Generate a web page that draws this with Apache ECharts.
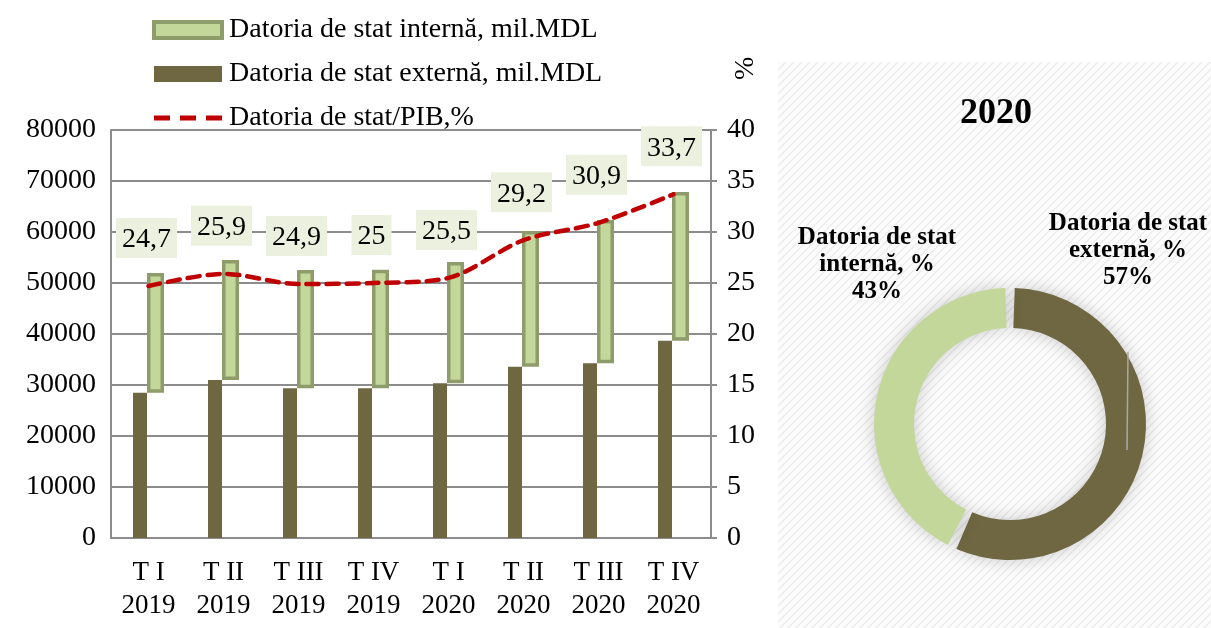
<!DOCTYPE html>
<html>
<head>
<meta charset="utf-8">
<title>Datoria de stat</title>
<script src="https://cdn.jsdelivr.net/npm/echarts@6/dist/echarts.min.js"></script>
<style>
	html, body { margin: 0; padding: 0; background: #fff; }
	#main { width: 1211px; height: 628px; }
</style>
</head>
<body>
<div id="main"></div>
<script>
var categories = ['T I\n2019', 'T II\n2019', 'T III\n2019', 'T IV\n2019', 'T I\n2020', 'T II\n2020', 'T III\n2020', 'T IV\n2020'];
// mil. MDL
var externalDebt = [28500, 31000, 29350, 29350, 30330, 33600, 34250, 38700];
var internalDebt = [23470, 23500, 23200, 23250, 23770, 26600, 28100, 29150];
// %
var debtToGdp = [24.7, 25.9, 24.9, 25, 25.5, 29.2, 30.9, 33.7];

var pieNames = ['Datoria de stat externă, %', 'Datoria de stat internă, %'];
var pieShares = [57, 43];

var nameInt = 'Datoria de stat internă, mil.MDL';
var nameExt = 'Datoria de stat externă, mil.MDL';
var nameGdp = 'Datoria de stat/PIB,%';

var FONT = '"Liberation Serif", serif';
var DARK = '#6E6741';
var LIGHT = '#C4D79B';
var LIGHT_BORDER = '#8E9B6A';
var RED = '#C00000';

// hatched background for the pie panel
var hatch = document.createElement('canvas');
hatch.width = 8;
hatch.height = 8;
var hctx = hatch.getContext('2d');
hctx.fillStyle = '#fcfcfc';
hctx.fillRect(0, 0, 8, 8);
hctx.strokeStyle = '#ececec';
hctx.lineWidth = 1.5;
hctx.beginPath();
hctx.moveTo(0, 8); hctx.lineTo(8, 0);
hctx.moveTo(-4, 4); hctx.lineTo(4, -4);
hctx.moveTo(4, 12); hctx.lineTo(12, 4);
hctx.stroke();

var pieData = [];
for (var i = 0; i < pieNames.length; i++) {
	pieData.push({ name: pieNames[i], value: pieShares[i] });
}

var chart = echarts.init(document.getElementById('main'), null, { renderer: 'canvas' });

var option = {
	backgroundColor: '#fff',
	animation: false,
	textStyle: { fontFamily: FONT },
	graphic: [
		{
			type: 'rect', z: -10,
			shape: { x: 778, y: 62, width: 433, height: 566 },
			style: { fill: { image: hatch, repeat: 'repeat' } }
		},
		{
			type: 'text', x: 732, y: 80, rotation: Math.PI / 2,
			style: { text: '%', font: '28px ' + FONT, fill: '#000' }
		},
		// leftover leader line of the external label
		{
			type: 'line', z: 100,
			shape: { x1: 1128, y1: 352, x2: 1127, y2: 450 },
			style: { stroke: '#a8a8a8', lineWidth: 1.5 }
		}
	],
	title: {
		text: '2020',
		left: 991, top: 91,
		textAlign: 'center',
		textStyle: { fontFamily: FONT, fontSize: 36, fontWeight: 'bold', color: '#000' }
	},
	legend: {
		orient: 'vertical',
		left: 152, top: 16, padding: 0,
		itemWidth: 68, itemHeight: 16, itemGap: 16,
		textStyle: { fontFamily: FONT, fontSize: 28, color: '#000', padding: [0, 0, 0, 2] },
		data: [
			{ name: nameInt, icon: 'rect', itemStyle: { color: LIGHT, borderColor: LIGHT_BORDER, borderWidth: 4 } },
			{ name: nameExt, icon: 'rect', itemStyle: { color: DARK, borderWidth: 0 } },
			{ name: nameGdp, icon: 'path://M0,0H16V5H0Z M26,0H42V5H26Z M52,0H68V5H52Z', itemStyle: { color: RED } }
		]
	},
	grid: { left: 111, right: 500, top: 130, bottom: 90, show: false, outerBoundsMode: 'none' },
	xAxis: {
		type: 'category',
		data: categories,
		axisLine: { show: true, lineStyle: { color: '#8c8c8c', width: 2 } },
		axisTick: { show: false },
		axisLabel: { fontFamily: FONT, fontSize: 27, color: '#000', lineHeight: 33, margin: 18, interval: 0 }
	},
	yAxis: [
		{
			type: 'value', min: 0, max: 80000, interval: 10000,
			axisLine: { show: true, lineStyle: { color: '#8c8c8c', width: 2 } },
			axisTick: { show: false },
			splitLine: { show: true, lineStyle: { color: '#8c8c8c', width: 2 } },
			axisLabel: {
				fontFamily: FONT, fontSize: 28, color: '#000', margin: 15,
				formatter: function(v) { return String(v); }
			}
		},
		{
			type: 'value', min: 0, max: 40, interval: 5, position: 'right',
			axisLine: { show: true, lineStyle: { color: '#8c8c8c', width: 2 } },
			axisTick: { show: true, length: 6, lineStyle: { color: '#8c8c8c', width: 2 } },
			splitLine: { show: false },
			axisLabel: { fontFamily: FONT, fontSize: 28, color: '#000', margin: 16 }
		}
	],
	series: [
		{
			name: nameExt, type: 'bar', stack: 'ext',
			barWidth: 14, barGap: '0%',
			itemStyle: { color: DARK },
			data: externalDebt
		},
		{
			name: 'base', type: 'bar', stack: 'int',
			barWidth: 17, barGap: '0%', silent: true,
			itemStyle: { color: 'rgba(0,0,0,0)' },
			data: externalDebt
		},
		{
			name: nameInt, type: 'bar', stack: 'int',
			barWidth: 17, barGap: '0%',
			itemStyle: { color: LIGHT, borderColor: LIGHT_BORDER, borderWidth: 3.5 },
			data: internalDebt
		},
		{
			name: nameGdp, type: 'line', yAxisIndex: 1,
			smooth: 0.3, symbol: 'circle', symbolSize: 0, showSymbol: true,
			lineStyle: { color: RED, width: 4.5, type: [12, 8], cap: 'round' },
			itemStyle: { color: RED },
			label: {
				show: true, position: 'top', distance: 28, offset: [-2, 0],
				fontFamily: FONT, fontSize: 28, color: '#000',
				backgroundColor: '#EBF1DE', padding: [8, 6, 4, 6],
				formatter: function(p) {
					return String(p.value).replace('.', ',');
				}
			},
			z: 5,
			data: debtToGdp
		},
		{
			name: '2020', type: 'pie',
			center: [1010, 424], radius: [96, 136],
			startAngle: 90, clockwise: true, padAngle: 4,
			itemStyle: { shadowBlur: 18, shadowColor: 'rgba(0,0,0,0.2)' },
			color: [DARK, LIGHT],
			label: {
				show: true, position: 'inside',
				fontFamily: FONT, fontSize: 25, fontWeight: 'bold', color: '#000',
				lineHeight: 27, align: 'center',
				formatter: function(p) {
					return p.name.replace('stat ', 'stat\n') + '\n' + p.value + '%';
				}
			},
			labelLine: { show: false },
			labelLayout: function(params) {
				if (params.dataIndex === 0) {
					return { x: 1128, y: 251, align: 'center', verticalAlign: 'middle' };
				}
				return { x: 877, y: 265, align: 'center', verticalAlign: 'middle' };
			},
			data: pieData
		}
	]
};

chart.setOption(option);
</script>
</body>
</html>
